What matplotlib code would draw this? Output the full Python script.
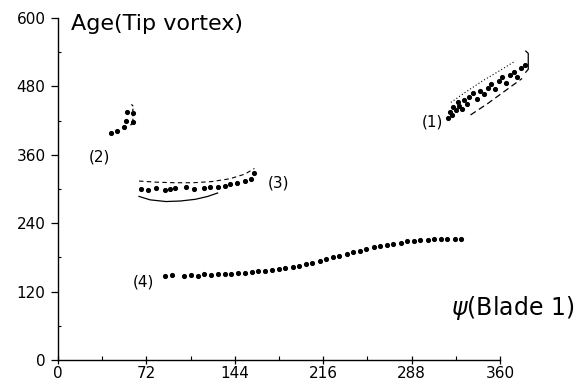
import matplotlib
matplotlib.use('Agg')
import matplotlib.pyplot as plt
from matplotlib.ticker import MultipleLocator

# tip vortex age against blade azimuth
x_ticks = [0, 72, 144, 216, 288, 360]
y_ticks = [0, 120, 240, 360, 480, 600]

# (1)
psi_1 = [318, 319, 321, 322, 324, 326, 327, 329, 331, 333, 335, 338, 341, 344, 347,
         350, 353, 356, 359, 362, 365, 368, 371, 374, 377, 380]
age_1 = [424, 436, 430, 444, 438, 452, 446, 441, 456, 450, 462, 468, 458, 472, 466,
         478, 484, 476, 490, 496, 486, 500, 506, 497, 512, 518]
lo_1_psi = [336, 350, 364, 378]
lo_1_age = [430, 450, 472, 494]
hi_1_psi = [320, 332, 346, 360, 372]
hi_1_age = [452, 470, 490, 508, 524]
br_1_psi = [381, 383, 383, 381]
br_1_age = [505, 510, 538, 542]

# (2)
psi_2 = [43, 48, 54, 55, 56, 61, 61]
age_2 = [398, 402, 408, 420, 436, 418, 434]
br_2_psi = [59, 61, 61, 59]
br_2_age = [412, 416, 446, 450]

# (3)
psi_3 = [68, 73, 80, 87, 91, 95, 104, 111, 119, 124, 130, 136, 140, 146, 152, 157, 160]
age_3 = [300, 298, 302, 299, 300, 302, 303, 300, 301, 303, 304, 305, 309, 310, 314, 318, 328]
lo_3_psi = [66, 75, 88, 100, 112, 122, 130]
lo_3_age = [287, 281, 278, 279, 282, 287, 293]
hi_3_psi = [66, 80, 95, 110, 125, 140, 152, 160]
hi_3_age = [314, 312, 311, 311, 313, 318, 326, 336]

# (4)
psi_4 = [87, 93, 103, 108, 114, 119, 125, 130, 136, 141, 147, 152, 158, 163, 169,
         174, 180, 185, 191, 196, 202, 207, 213, 218, 224, 229, 235, 240, 246, 251,
         257, 262, 268, 273, 279, 284, 290, 295, 301, 306, 312, 317, 323, 328]
age_4 = [148, 149, 148, 149, 148, 150, 149, 150, 151, 150, 152, 153, 155, 156, 157,
         158, 160, 162, 163, 165, 168, 171, 174, 177, 180, 183, 186, 189, 192, 195,
         198, 200, 202, 204, 206, 208, 209, 210, 211, 212, 212, 213, 212, 212]

labels = ['(1)', '(2)', '(3)', '(4)']
label_psi = [305, 34, 180, 70]
label_age = [418, 357, 310, 137]


def main():
    plt.rcParams['font.family'] = ['DejaVu Sans']
    fig = plt.figure(figsize=(5.81, 3.89), dpi=100)
    ax = fig.add_axes([0.0998, 0.0746, 0.7608, 0.879])

    dot = dict(color='black', marker='o', linestyle='none', markersize=2.7, clip_on=False)
    ax.plot(psi_1, age_1, **dot)
    ax.plot(psi_2, age_2, **dot)
    ax.plot(psi_3, age_3, **dot)
    ax.plot(psi_4, age_4, **dot)

    # envelopes drawn around the clusters
    ax.plot(lo_1_psi, lo_1_age, color='black', lw=0.9, ls=(0, (5, 3)), clip_on=False)
    ax.plot(hi_1_psi, hi_1_age, color='black', lw=0.8, ls=(0, (1, 2)), clip_on=False)
    ax.plot(br_1_psi, br_1_age, color='black', lw=0.9, clip_on=False)
    ax.plot(br_2_psi, br_2_age, color='black', lw=0.9, ls=(0, (2, 2)))
    ax.plot(lo_3_psi, lo_3_age, color='black', lw=0.9)
    ax.plot(hi_3_psi, hi_3_age, color='black', lw=0.8, ls=(0, (4, 3)))

    for lab, px, py in zip(labels, label_psi, label_age):
        ax.text(px, py, lab, fontsize=11, ha='center', va='center')

    ax.set_xlim(0, 360)
    ax.set_ylim(0, 600)
    ax.set_xticks(x_ticks)
    ax.set_yticks(y_ticks)
    ax.xaxis.set_minor_locator(MultipleLocator(36))
    ax.yaxis.set_minor_locator(MultipleLocator(60))
    ax.tick_params(axis='x', which='major', direction='inout', length=6, width=0.9,
                   labelsize=11, pad=1)
    ax.tick_params(axis='y', which='major', direction='out', length=5, width=0.9,
                   labelsize=11, pad=4)
    ax.tick_params(axis='x', which='minor', direction='in', length=3, width=0.8)
    ax.tick_params(axis='y', which='minor', direction='in', length=2.5, width=0.8)
    ax.spines['top'].set_visible(False)
    ax.spines['right'].set_visible(False)
    ax.spines['left'].set_linewidth(1.0)
    ax.spines['bottom'].set_linewidth(1.0)

    ax.text(0.03, 0.982, 'Age(Tip vortex)', transform=ax.transAxes, fontsize=16,
            ha='left', va='center')
    ax.text(1.168, 0.152, r'$\psi$(Blade 1)', transform=ax.transAxes, fontsize=17,
            ha='right', va='center')

    fig.savefig('out.png', dpi=100)


if __name__ == "__main__":
    main()
